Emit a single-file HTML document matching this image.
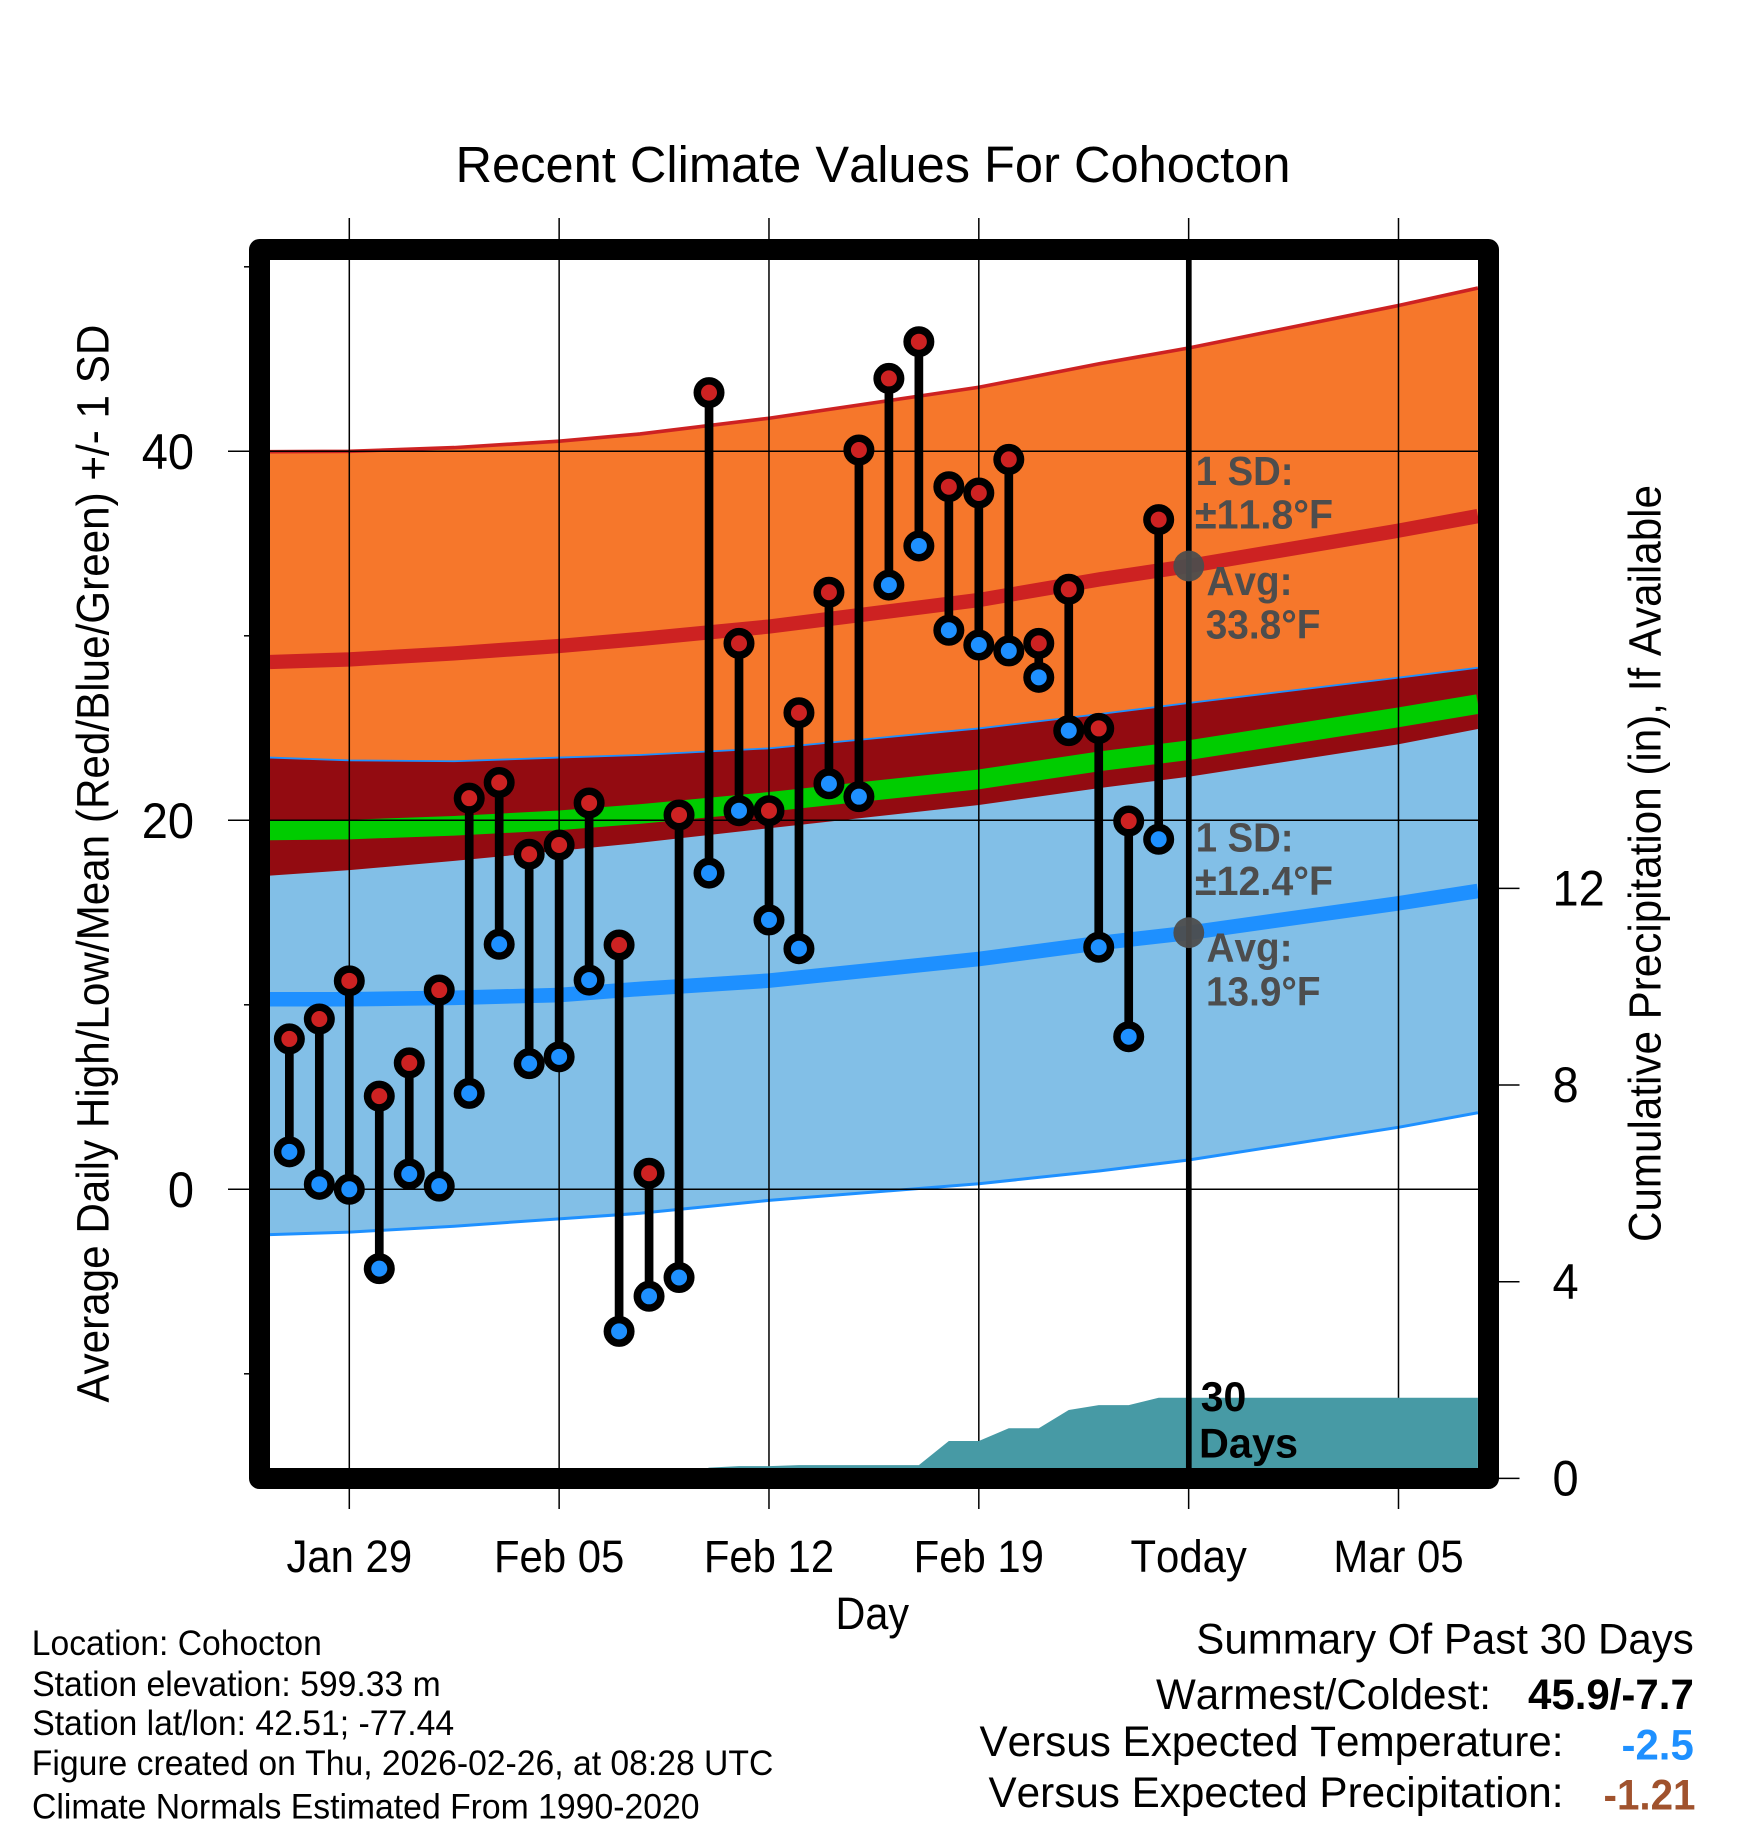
<!DOCTYPE html>
<html lang="en">
<head>
<meta charset="utf-8">
<title>Recent Climate Values For Cohocton</title>
<style>
html,body{margin:0;padding:0;background:#fff;}
svg{display:block;}
text{font-family:"Liberation Sans",Arial,Helvetica,sans-serif;fill:#000;font-kerning:none;}
.b{font-weight:700;}
.g{font-weight:700;fill:#4d4d4d;font-size:40.5px;}
</style>
</head>
<body>
<svg id="chart" xmlns="http://www.w3.org/2000/svg" width="1748" height="1828" viewBox="0 0 1748 1828">
  <defs>
    <clipPath id="plot-clip"><rect x="270" y="260" width="1208" height="1208"/></clipPath>
  </defs>
  <g id="bands" clip-path="url(#plot-clip)"></g>
  <g id="grid"></g>
  <g id="precip" clip-path="url(#plot-clip)"></g>
  <line x1="1188.8" x2="1188.8" y1="260" y2="1468" stroke="#000" stroke-width="5.7"/>
  <g id="days"></g>
  <circle cx="1188.8" cy="566" r="15.4" fill="#4d4d4d" fill-opacity="0.95"/>
  <circle cx="1188.8" cy="932.7" r="15.4" fill="#4d4d4d" fill-opacity="0.95"/>
  <rect x="259.5" y="249.5" width="1229" height="1229" fill="none" stroke="#000" stroke-width="21" stroke-linejoin="round"/>

  <text x="455.5" y="182" font-size="51" textLength="835" lengthAdjust="spacingAndGlyphs">Recent Climate Values For Cohocton</text>
  <text transform="translate(108.5 1402.6) rotate(-90)" font-size="45" textLength="1078" lengthAdjust="spacingAndGlyphs">Average Daily High/Low/Mean (Red/Blue/Green) +/- 1 SD</text>
  <text transform="translate(1660.5 1242) rotate(-90)" font-size="45" textLength="757" lengthAdjust="spacingAndGlyphs">Cumulative Precipitation (in), If Available</text>
  <text x="835.5" y="1629" font-size="45" textLength="73.5" lengthAdjust="spacingAndGlyphs">Day</text>

  <text class="g" x="1195.7" y="485" textLength="97.8" lengthAdjust="spacingAndGlyphs">1 SD:</text>
  <text class="g" x="1195" y="528.3" textLength="138" lengthAdjust="spacingAndGlyphs">±11.8°F</text>
  <text class="g" x="1206.5" y="595" textLength="86" lengthAdjust="spacingAndGlyphs">Avg:</text>
  <text class="g" x="1205.7" y="638.3" textLength="114.8" lengthAdjust="spacingAndGlyphs">33.8°F</text>
  <text class="g" x="1195.7" y="851.7" textLength="97.8" lengthAdjust="spacingAndGlyphs">1 SD:</text>
  <text class="g" x="1195" y="895" textLength="138" lengthAdjust="spacingAndGlyphs">±12.4°F</text>
  <text class="g" x="1206.5" y="961.7" textLength="86" lengthAdjust="spacingAndGlyphs">Avg:</text>
  <text class="g" x="1206" y="1005.7" textLength="114.5" lengthAdjust="spacingAndGlyphs">13.9°F</text>

  <text class="b" x="1200.7" y="1411" font-size="42" textLength="45.6" lengthAdjust="spacingAndGlyphs">30</text>
  <text class="b" x="1199" y="1457.6" font-size="42" textLength="99" lengthAdjust="spacingAndGlyphs">Days</text>

  <g font-size="35">
    <text x="31.8" y="1655" textLength="290" lengthAdjust="spacingAndGlyphs">Location: Cohocton</text>
    <text x="32.2" y="1696" textLength="408.5" lengthAdjust="spacingAndGlyphs">Station elevation: 599.33 m</text>
    <text x="32.2" y="1735" textLength="422" lengthAdjust="spacingAndGlyphs">Station lat/lon: 42.51; -77.44</text>
    <text x="31.8" y="1775" textLength="741.5" lengthAdjust="spacingAndGlyphs">Figure created on Thu, 2026-02-26, at 08:28 UTC</text>
    <text x="32" y="1818.7" textLength="667.5" lengthAdjust="spacingAndGlyphs">Climate Normals Estimated From 1990-2020</text>
  </g>

  <g font-size="43">
    <text x="1196.3" y="1653.5" textLength="497.5" lengthAdjust="spacingAndGlyphs">Summary Of Past 30 Days</text>
    <text x="1156" y="1709" textLength="335" lengthAdjust="spacingAndGlyphs">Warmest/Coldest:</text>
    <text class="b" x="1528" y="1709" textLength="165.8" lengthAdjust="spacingAndGlyphs">45.9/-7.7</text>
    <text x="979.5" y="1756" textLength="584" lengthAdjust="spacingAndGlyphs">Versus Expected Temperature:</text>
    <text class="b" x="1621.5" y="1759.6" textLength="72.3" lengthAdjust="spacingAndGlyphs" style="fill:#1e90ff">-2.5</text>
    <text x="988.5" y="1807" textLength="575" lengthAdjust="spacingAndGlyphs">Versus Expected Precipitation:</text>
    <text class="b" x="1603.5" y="1809.4" textLength="92" lengthAdjust="spacingAndGlyphs" style="fill:#a0522d">-1.21</text>
  </g>
</svg>
<script>
// Day index 0 is Jan 27; observations cover Jan 27 to Feb 25.
const xTickDays = [2, 9, 16, 23, 30, 37];
const xTickLabels = ["Jan 29", "Feb 05", "Feb 12", "Feb 19", "Today", "Mar 05"];
const tempMajorTicks = [0, 20, 40];
const tempMajorLabels = ["0", "20", "40"];
const tempMinorTicks = [-10, 10, 30, 50];
const precipTicks = [0, 4, 8, 12];
const precipLabels = ["0", "4", "8", "12"];

const dailyHigh = [8.15, 9.23, 11.3, 5.05, 6.85, 10.8, 21.2, 22.05, 18.16, 18.66, 20.94, 13.24, 0.87, 20.29, 43.18, 29.59, 20.52, 25.83, 32.36, 40.07, 43.95, 45.94, 38.08, 37.74, 39.56, 29.59, 32.52, 24.98, 19.96, 36.3];
const dailyLow = [2.03, 0.27, 0, -4.3, 0.83, 0.17, 5.2, 13.28, 6.81, 7.18, 11.34, -7.7, -5.8, -4.78, 17.14, 20.52, 14.6, 13.04, 21.98, 21.28, 32.75, 34.87, 30.3, 29.5, 29.18, 27.75, 24.86, 13.12, 8.27, 18.97];
const cumulativePrecip = [0, 0, 0, 0, 0, 0, 0, 0, 0, 0, 0, 0, 0, 0, 0.22, 0.25, 0.25, 0.27, 0.27, 0.27, 0.27, 0.27, 0.76, 0.76, 1.02, 1.02, 1.39, 1.49, 1.49, 1.64];
const precipEndDay = 39.65;

const normalDays = [-0.65, 2, 5.5, 9, 11.7, 16, 23, 27.04, 30, 37, 39.65];
const highUpper = [39.98, 40.0, 40.2, 40.55, 40.94, 41.79, 43.47, 44.75, 45.6, 47.9, 48.85];
const highAvg = [28.58, 28.72, 29.05, 29.45, 29.83, 30.5, 31.94, 33.06, 33.78, 35.7, 36.49];
const highLower = [17.0, 17.3, 17.8, 18.35, 18.78, 19.57, 20.83, 21.75, 22.36, 24.12, 24.95];
const lowUpper = [23.4, 23.25, 23.2, 23.4, 23.54, 23.9, 24.98, 25.76, 26.36, 27.73, 28.27];
const meanAvg = [19.45, 19.5, 19.7, 20.0, 20.34, 21.0, 22.22, 23.2, 23.8, 25.58, 26.3];
const lowAvg = [10.3, 10.3, 10.38, 10.53, 10.86, 11.31, 12.48, 13.35, 13.9, 15.5, 16.17];
const lowLower = [-2.46, -2.32, -2.0, -1.6, -1.3, -0.6, 0.3, 1.0, 1.59, 3.36, 4.15];

const SVG_NS = "http://www.w3.org/2000/svg";
function xDay(d) { return 349.3 + (d - 2) * 29.977; }
function yTemp(v) { return 1189.3 - v * 18.45; }
function yPrecip(v) { return 1478.4 - v * 49.17; }

function make(tag, parent, attrs) {
  const el = document.createElementNS(SVG_NS, tag);
  for (const k in attrs) el.setAttribute(k, attrs[k]);
  parent.appendChild(el);
  return el;
}
function squeeze(el, factor) {
  el.setAttribute("textLength", (el.getComputedTextLength() * factor).toFixed(2));
  el.setAttribute("lengthAdjust", "spacingAndGlyphs");
}
function linePoints(days, vals) {
  return days.map(function (d, i) { return xDay(d).toFixed(2) + "," + yTemp(vals[i]).toFixed(2); });
}
function bandPoints(days, top, bottom) {
  return linePoints(days, top).concat(linePoints(days, bottom).reverse()).join(" ");
}

const bands = document.getElementById("bands");
let node;
node = make("polygon", bands, { points: bandPoints(normalDays, highUpper, highLower), fill: "#f6772b" });


node = make("polygon", bands, { points: bandPoints(normalDays, lowUpper, lowLower), fill: "#82bfe7" });


node = make("polygon", bands, { points: bandPoints(normalDays, lowUpper, highLower), fill: "#930b11" });


node = make("polyline", bands, { points: linePoints(normalDays, highUpper).join(" "), fill: "none", stroke: "#cd2222", "stroke-width": 3.6 });


node = make("polyline", bands, { points: linePoints(normalDays, lowUpper).join(" "), fill: "none", stroke: "#1e90ff", "stroke-width": 1.8 });


node = make("polyline", bands, { points: linePoints(normalDays, lowLower).join(" "), fill: "none", stroke: "#1e90ff", "stroke-width": 3 });


node = make("polyline", bands, { points: linePoints(normalDays, highAvg).join(" "), fill: "none", stroke: "#cd2222", "stroke-width": 14.3 });


node = make("polyline", bands, { points: linePoints(normalDays, lowAvg).join(" "), fill: "none", stroke: "#1e90ff", "stroke-width": 14.6 });


node = make("polyline", bands, { points: linePoints(normalDays, meanAvg).join(" "), fill: "none", stroke: "#00cc00", "stroke-width": 19.6 });



const grid = document.getElementById("grid");
xTickDays.forEach(function (d, i) {
  const g = make("line", grid, { x1: xDay(d), x2: xDay(d), y1: 218, y2: 1509, stroke: "#000", "stroke-width": 1.5 });
  
  
  const t = make("text", grid, { x: xDay(d), y: 1572, "font-size": 45, "text-anchor": "middle" });
  
  
  t.textContent = xTickLabels[i];
  squeeze(t, 0.93);
});
tempMajorTicks.forEach(function (v, i) {
  const g = make("line", grid, { x1: 228, x2: 1478, y1: yTemp(v), y2: yTemp(v), stroke: "#000", "stroke-width": 1.5 });
  
  
  const t = make("text", grid, { x: 194, y: yTemp(v) + 17.8, "font-size": 50, "text-anchor": "end" });
  
  
  t.textContent = tempMajorLabels[i];
  squeeze(t, 0.94);
});
tempMinorTicks.forEach(function (v) {
  const g = make("line", grid, { x1: 244, x2: 250, y1: yTemp(v), y2: yTemp(v), stroke: "#000", "stroke-width": 1.5 });
  
  
});
precipTicks.forEach(function (v, i) {
  const g = make("line", grid, { x1: 1498, x2: 1519.5, y1: yPrecip(v), y2: yPrecip(v), stroke: "#000", "stroke-width": 1.5 });
  
  
  const t = make("text", grid, { x: 1552.5, y: yPrecip(v) + 17.2, "font-size": 50 });
  
  
  t.textContent = precipLabels[i];
  squeeze(t, 0.94);
});

const precip = document.getElementById("precip");
const precipTop = cumulativePrecip.map(function (v, i) { return xDay(i).toFixed(2) + "," + yPrecip(v).toFixed(2); });
precipTop.push(xDay(precipEndDay).toFixed(2) + "," + yPrecip(cumulativePrecip[cumulativePrecip.length - 1]).toFixed(2));
precipTop.push(xDay(precipEndDay).toFixed(2) + "," + yPrecip(0).toFixed(2));
precipTop.push(xDay(0).toFixed(2) + "," + yPrecip(0).toFixed(2));
const area = make("polygon", precip, { points: precipTop.join(" "), fill: "#479aa5" });



const days = document.getElementById("days");
dailyHigh.forEach(function (hi, i) {
  const lo = dailyLow[i];
  const x = xDay(i);
  const stem = make("line", days, { x1: x, x2: x, y1: yTemp(hi), y2: yTemp(lo), stroke: "#000", "stroke-width": 8.7 });
  
  
  const hiDot = make("circle", days, { cx: x, cy: yTemp(hi), r: 11.75, fill: "#cd2222", stroke: "#000", "stroke-width": 7.5 });
  
  
  const loDot = make("circle", days, { cx: x, cy: yTemp(lo), r: 11.75, fill: "#1e90ff", stroke: "#000", "stroke-width": 7.5 });
  
  
});
</script>
</body>
</html>
